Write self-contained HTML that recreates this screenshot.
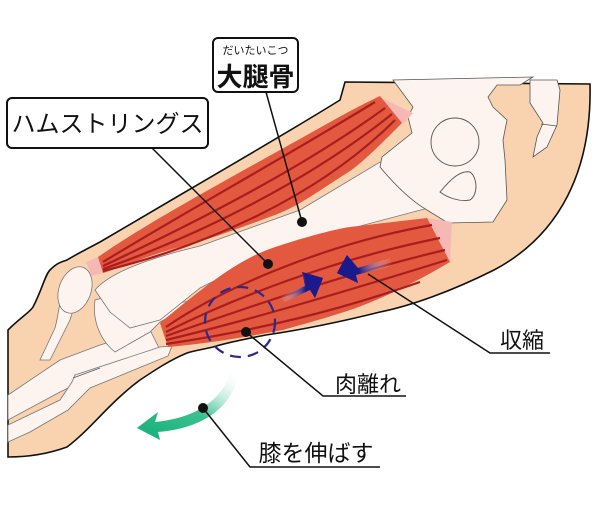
<!DOCTYPE html>
<html><head><meta charset="utf-8"><style>
html,body{margin:0;padding:0;background:#fff;}
svg{display:block;}
text{font-family:"Liberation Sans","Noto Sans CJK JP",sans-serif;fill:#111;}
</style></head><body>
<svg width="601" height="510" viewBox="0 0 601 510" xmlns="http://www.w3.org/2000/svg">
<defs>
<linearGradient id="gr" x1="0" y1="1" x2="0.8" y2="0">
<stop offset="0" stop-color="#12b07a"/><stop offset="0.5" stop-color="#3cc08f"/><stop offset="1" stop-color="#fff" stop-opacity="0"/>
</linearGradient>
<linearGradient id="b1" x1="0" y1="0" x2="1" y2="0">
<stop offset="0" stop-color="#fff" stop-opacity="0"/><stop offset="0.6" stop-color="#1a1a8c"/>
</linearGradient>
<linearGradient id="b2" x1="1" y1="0" x2="0" y2="0">
<stop offset="0" stop-color="#fff" stop-opacity="0"/><stop offset="0.6" stop-color="#1a1a8c"/>
</linearGradient>
</defs>
<!-- skin -->
<path d="M8,330 C20,318 30,312 33,307 C42,290 45,275 50,270 C58,262 62,262 67,260 C75,255 85,250 100,242 L180,195 C240,160 300,125 340,100 L345,82 L590,84 C592,170 560,235 494,270 C450,292 410,306 380,312 C340,322 300,330 266,335 C240,340 222,344 213,347 C200,350 192,351 187,353 C170,360 155,370 140,380 C110,402 90,430 67,447 C45,455 25,457 8,457 Z" fill="#f9d3b0" stroke="#111" stroke-width="1.6"/>
<!-- lower leg bones -->
<path d="M8,395 L60,360 L100,345 L150,330 L160,350 L110,368 L60,392 L8,420 Z" fill="#fdf4ef" stroke="#777" stroke-width="0.8"/>
<path d="M8,425 L60,400 L72,382 L75,375 L160,347 L172,346 L168,356 L90,388 L68,410 L30,432 L8,442 Z" fill="#fdf4ef" stroke="#777" stroke-width="0.8"/>
<line x1="73" y1="378" x2="100" y2="368" stroke="#555" stroke-width="0.8"/>
<path d="M40,360 L55,328 C60,310 58,298 68,290 L80,288 L70,320 L50,360 Z" fill="#fdf4ef" stroke="#777" stroke-width="0.8"/>
<path d="M95,300 C92,320 100,340 115,352 L150,332 L160,322 L200,300 L160,305 L110,296 Z" fill="#fdf4ef" stroke="#777" stroke-width="0.8"/>
<ellipse cx="75" cy="290" rx="16" ry="24" transform="rotate(20 75 290)" fill="#fdf4ef" stroke="#777" stroke-width="0.8"/>
<!-- femur -->
<path d="M95,290 C110,272 150,258 200,246 L300,210 L380,162 L420,175 L432,207 L330,234 L260,258 L200,288 L160,320 L130,328 L110,312 Z" fill="#fdf4ef" stroke="#777" stroke-width="0.8"/>
<!-- pelvis -->
<path d="M393,80 L413,107 L408,117 L412,133 L382,157 L380,167 C395,185 410,200 427,210 L448,223 L493,222 L507,200 L505,160 L503,140 L507,120 L493,107 L488,97 L497,85 L520,85 L533,77 Z" fill="#fdf4ef" stroke="#555" stroke-width="0.8"/>
<path d="M530,80 L557,80 L560,90 L557,125 L547,147 L533,157 L537,137 L543,123 L530,103 Z" fill="#fdf4ef" stroke="#555" stroke-width="0.8"/>
<line x1="541" y1="124" x2="557" y2="126" stroke="#555" stroke-width="0.8"/>
<circle cx="455" cy="142" r="24" fill="none" stroke="#555" stroke-width="0.9"/>
<path d="M440,192 C450,180 460,170 470,172 C478,178 478,195 470,200 C460,202 448,198 440,192 Z" fill="none" stroke="#555" stroke-width="0.9"/>
<!-- upper muscle -->
<path d="M377,96 L413,113 L405,122 L398,124 Z" fill="#f5b8b5"/>
<path d="M86,262 L98,257 L103,273 L92,276 Z" fill="#f5b8b5"/>
<path d="M98,257 C140,228 190,200 280,150 C320,128 350,110 380,96 L402,123 C380,145 360,165 347,173 C320,190 300,205 280,213 C230,232 200,242 180,247 C140,258 120,268 103,273 Z" fill="#e2593f"/>
<g fill="none" stroke="#a91d1f" stroke-width="2.2">
<path d="M103,262 C180,215 280,160 375,102"/>
<path d="M103,266 C190,225 300,170 385,108"/>
<path d="M103,269 C200,235 310,180 392,114"/>
<path d="M103,271 C210,245 320,195 395,120"/>
</g>
<!-- hamstring muscle -->
<path d="M427,218 L452,222 L450,262 L440,255 Z" fill="#f5b8b5"/>
<path d="M160,323 C200,290 235,262 267,250 C300,238 340,228 350,227 L427,218 L450,262 C420,280 380,300 350,310 C320,320 300,325 283,330 C240,338 210,343 168,347 Z" fill="#e2593f"/>
<g fill="none" stroke="#a91d1f" stroke-width="2.2">
<path d="M166,327 C220,290 320,245 432,225"/>
<path d="M166,332 C230,300 330,260 440,238"/>
<path d="M166,336 C240,310 340,275 445,250"/>
<path d="M166,340 C250,320 350,290 447,260"/>
<path d="M166,344 C260,330 340,310 420,282"/>
</g>
<!-- dashed circle -->
<circle cx="240" cy="322" r="35" fill="none" stroke="#2a2a8e" stroke-width="2.2" stroke-dasharray="11,7"/>
<!-- blue arrows -->
<path d="M280,297 L305,286 L302,272 L323,278 L315,298 L310,290 L285,302 Z" fill="url(#b1)"/>
<path d="M302,272 L323,278 L315,298 Z" fill="#1a1a8c"/>
<path d="M390,258 L358,268 L347,255 L337,273 L358,283 L356,275 L392,266 Z" fill="url(#b2)"/>
<path d="M347,255 L337,273 L358,283 Z" fill="#1a1a8c"/>
<!-- green arrow -->
<path d="M232,360 C230,395 200,418 155,422 L158,412 L137,428 L160,440 L158,432 C210,428 240,400 240,360 Z" fill="url(#gr)"/>
<!-- leaders -->
<g stroke="#111" stroke-width="1.5" fill="none">
<path d="M266,92 L302,222"/>
<path d="M152,148 L268,264"/>
<path d="M368,274 L490,353 L550,353"/>
<path d="M246,332 L323,396 L406,396"/>
<path d="M203,408 L250,467 L380,467"/>
</g>
<g fill="#111">
<circle cx="302" cy="222" r="5"/><circle cx="268" cy="264" r="5"/><circle cx="246" cy="332" r="5"/><circle cx="203" cy="408" r="5"/>
</g>
<!-- boxes -->
<rect x="213" y="38" width="85" height="54" rx="5" fill="#fff" stroke="#111" stroke-width="2"/>
<text x="255.5" y="54" font-size="11" text-anchor="middle">だいたいこつ</text>
<text x="255.5" y="86" font-size="26" font-weight="bold" text-anchor="middle">大腿骨</text>
<rect x="7" y="98" width="201" height="50" rx="5" fill="#fff" stroke="#111" stroke-width="2"/>
<text x="107.5" y="132" font-size="24" text-anchor="middle">ハムストリングス</text>
<text x="522" y="348" font-size="22" text-anchor="middle">収縮</text>
<text x="368" y="392" font-size="22" text-anchor="middle">肉離れ</text>
<text x="316" y="461" font-size="23" text-anchor="middle">膝を伸ばす</text>
</svg>
</body></html>
